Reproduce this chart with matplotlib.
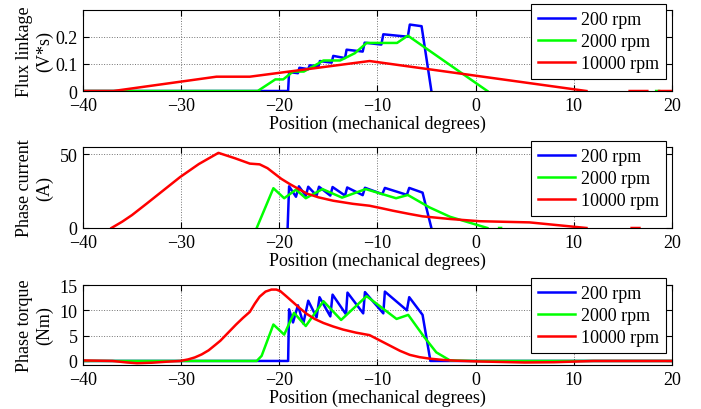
import numpy as np
import matplotlib.pyplot as plt

plt.rcParams['font.family'] = ['Liberation Serif', 'DejaVu Serif']
plt.rcParams['font.size'] = 13
plt.rcParams['axes.unicode_minus'] = True

nan = np.nan
labels = ["200 rpm", "2000 rpm", "10000 rpm"]
colors = ["#0000ff", "#00ff00", "#ff0000"]

# Flux linkage (V*s)
flux_x_200 = [-40, -19.1, -19.0, -18.1, -17.95, -17.05, -16.9, -16.0, -15.86, -14.67, -14.5,
              -13.3, -13.14, -11.5, -11.3, -9.6, -9.4, -6.9, -6.7, -5.5, -4.5]
flux_y_200 = [0, 0, 0.07, 0.066, 0.086, 0.081, 0.095, 0.092, 0.111, 0.105, 0.13,
              0.122, 0.153, 0.146, 0.179, 0.172, 0.21, 0.201, 0.246, 0.24, 0]
flux_x_2000 = [-40, -22.2, -20.4, -19.6, -18.6, -17.5, -16.6, -15.5, -13.8, -12.3, -11.1,
               -8.0, -6.9, 1.2, nan, 18.4, 18.7]
flux_y_2000 = [0, 0, 0.043, 0.043, 0.072, 0.072, 0.09, 0.113, 0.113, 0.14, 0.178,
               0.178, 0.205, 0, nan, 0, 0]
flux_x_10000 = [-40, -36.9, -26.4, -23.0, -10.8, 11.3, nan, 15.7, 17.5, nan, 18.7, 20]
flux_y_10000 = [0, 0, 0.053, 0.053, 0.111, 0, nan, 0, 0, nan, 0, 0]

# Phase current (A)
cur_x_200 = [-19.15, -19.0, -18.3, -18.0, -17.3, -17.05, -16.2, -15.95, -14.8, -14.57,
             -13.3, -13.08, -11.5, -11.27, -9.5, -9.24, -7.0, -6.76, -5.4, -4.5]
cur_y_200 = [0, 28.3, 21.2, 28.3, 21.8, 28.0, 22.0, 28.0, 22.0, 27.8,
             22.0, 27.5, 22.3, 27.3, 23.0, 27.2, 22.5, 27.2, 24.0, 0]
cur_x_2000 = [-22.3, -20.6, -19.5, -18.3, -17.3, -15.6, -13.6, -11.2, -8.1, -6.9,
              -4.7, -2.6, 0.4, 1.2, nan, 2.4, 2.6]
cur_y_2000 = [0, 27.0, 20.2, 26.0, 20.2, 26.4, 20.6, 26.4, 20.2, 22.4,
              14.0, 7.6, 1.6, 0, nan, 0, 0]
cur_x_10000 = [-37.1, -36.0, -35.0, -33.5, -31.8, -30.1, -28.2, -26.2, -24.5, -23.0, -22.0,
               -21.2, -20.6, -19.8, -18.9, -17.2, -16.0, -14.5, -12.5, -10.8, -9.5,
               -8.4, -6.8, -5.4, -2.6, 0.4, 5.5, 11.3, nan, 15.9, 16.7]
cur_y_10000 = [0, 4.3, 8.8, 16.6, 25.6, 34.6, 43.4, 51, 47.3, 43.7, 43.2,
               40.6, 37.5, 33.4, 29.7, 23.4, 20.8, 18.5, 16.4, 15.1, 13.3,
               11.7, 9.6, 7.9, 6.1, 4.6, 3.8, 0, nan, 0, 0]

# Phase torque (Nm)
tq_x_200 = [-40, -19.1, -19.0, -18.6, -18.1, -17.55, -17.05, -16.2, -15.9, -14.8, -14.57,
            -13.2, -13.05, -11.45, -11.27, -9.4, -9.24, -7.0, -6.76, -5.4, -4.6, 20]
tq_y_200 = [0, 0, 10.2, 7.6, 11.0, 7.4, 11.9, 8.6, 12.6, 8.8, 13.1,
            9.2, 13.5, 9.4, 13.6, 9.4, 13.7, 10.0, 12.6, 9.1, 0, 0]
tq_x_2000 = [-40, -22.3, -21.8, -20.6, -19.5, -18.5, -17.3, -15.5, -13.7, -11.1,
             -8.05, -6.86, -5.3, -4.0, -2.6, 0, 20]
tq_y_2000 = [0, 0, 1.0, 7.2, 5.2, 9.5, 6.9, 11.8, 8.1, 12.8,
             8.3, 9.1, 4.9, 1.7, 0.1, 0, 0]
tq_x_10000 = [-40, -37, -35.5, -34.5, -33, -31.5, -30.1, -29.3, -28.6, -27.9, -27.2, -26.5, -26.0,
              -25.2, -24.4, -23.7, -23.0, -22.5, -22.0, -21.4, -20.8, -20.3, -19.9,
              -19.3, -18.6, -17.9, -17.2, -16.4, -15.5, -14.5, -13.5, -12.2, -10.8,
              -9.8, -8.7, -7.7, -6.7, -5.7, -4.65, -3.3, -2, 0.4, 5, 8, 12, 20]
tq_y_10000 = [0.1, 0.0, -0.3, -0.45, -0.35, -0.15, 0.0, 0.3, 0.7, 1.3, 2.1, 3.2, 4.0,
              5.6, 7.2, 8.5, 9.7, 11.3, 12.7, 13.7, 14.1, 14.1, 13.8,
              12.8, 11.6, 10.4, 9.3, 8.3, 7.5, 6.8, 6.2, 5.6, 5.1,
              4.1, 3.0, 2.0, 1.2, 0.75, 0.45, 0.2, 0.05, -0.1, -0.3, -0.25, 0.0, 0.0]

panels = [
    ("Flux linkage\n(V*s)", [(flux_x_200, flux_y_200), (flux_x_2000, flux_y_2000), (flux_x_10000, flux_y_10000)],
     (0, 0.3), [0, 0.1, 0.2], ["0", "0.1", "0.2"]),
    ("Phase current\n(A)", [(cur_x_200, cur_y_200), (cur_x_2000, cur_y_2000), (cur_x_10000, cur_y_10000)],
     (0, 55), [0, 50], ["0", "50"]),
    ("Phase torque\n(Nm)", [(tq_x_200, tq_y_200), (tq_x_2000, tq_y_2000), (tq_x_10000, tq_y_10000)],
     (-0.8, 15), [0, 5, 10, 15], ["0", "5", "10", "15"]),
]

# axes boxes in figure fractions (left, bottom, width, height)
boxes = [(0.1184, 0.7756, 0.840, 0.1976),
         (0.1184, 0.4415, 0.840, 0.1976),
         (0.1184, 0.1073, 0.840, 0.1951)]
legend_tops = [1.074, 1.074, 1.0875]

fig = plt.figure(figsize=(7.01, 4.10), dpi=100)

for (ylab, series, ylim, yt, ytl), box, ltop in zip(panels, boxes, legend_tops):
    ax = fig.add_axes(box)
    for (x, y), c, lab in zip(series, colors, labels):
        ax.plot(x, y, color=c, lw=1.8, label=lab)
    ax.set_xlim(-40, 20)
    ax.set_ylim(*ylim)
    ax.set_xticks([-40, -30, -20, -10, 0, 10, 20])
    ax.set_yticks(yt)
    ax.set_yticklabels(ytl)
    ax.grid(True, linestyle=':', color='0.45', linewidth=0.7)
    ax.tick_params(direction='in', top=True, right=True, length=4, width=0.8, pad=4)
    for s in ax.spines.values():
        s.set_linewidth(0.8)
    ax.set_xlabel("Position (mechanical degrees)", labelpad=1)
    ax.set_ylabel(ylab, multialignment='center', linespacing=1.25)
    ax.yaxis.set_label_coords(-0.05, 0.5)
    leg = ax.legend(loc='upper right', bbox_to_anchor=(0.9898, ltop), fancybox=False,
                    edgecolor='black', framealpha=1, handlelength=2.1, handletextpad=0.3,
                    labelspacing=0.28, borderpad=0.38, borderaxespad=0)
    leg.get_frame().set_linewidth(0.8)
    leg.set_zorder(5)

fig.savefig("out.png", dpi=100)
